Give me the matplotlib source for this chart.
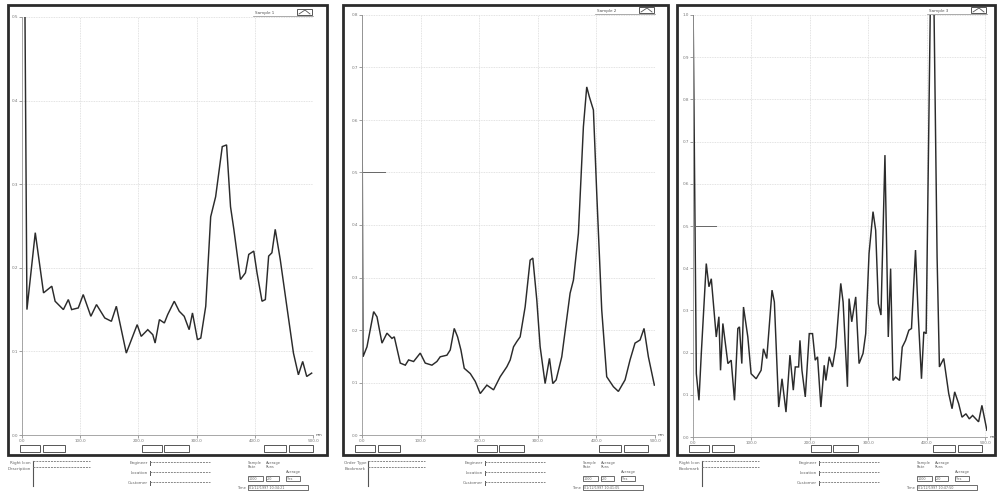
import numpy as np
import matplotlib
matplotlib.use("Agg")
import matplotlib.pyplot as plt
from matplotlib.patches import Rectangle

#-------------------
# Spectra (x in nm, y in absorbance units)

wl_1 = [4, 8.5, 22.8, 37.0, 51.2, 56.9, 71.1, 79.6, 85.3, 96.7, 105.2, 118.3, 128.0, 142.2,
        153.6, 162.1, 179.2, 197.9, 204.8, 216.1, 224.7, 228.7, 236.1, 244.6, 250.3, 261.6,
        270.2, 278.7, 287.2, 292.9, 301.5, 307.2, 315.7, 324.2, 332.7, 344.1, 351.5, 358.3,
        364.0, 375.4, 383.9, 389.6, 398.2, 403.8, 412.4, 418.1, 423.8, 429.4, 435.1, 443.7,
        455.0, 466.4, 474.9, 482.3, 489.2, 497.7]
abs_1 = [0.62, 0.150, 0.242, 0.170, 0.178, 0.160, 0.150, 0.162, 0.150, 0.152, 0.168, 0.142,
         0.156, 0.140, 0.136, 0.154, 0.098, 0.132, 0.118, 0.126, 0.120, 0.110, 0.138, 0.134,
         0.144, 0.160, 0.148, 0.142, 0.126, 0.146, 0.114, 0.116, 0.154, 0.261, 0.285, 0.345,
         0.347, 0.273, 0.246, 0.186, 0.194, 0.216, 0.220, 0.194, 0.160, 0.162, 0.214, 0.218,
         0.246, 0.210, 0.154, 0.098, 0.072, 0.088, 0.070, 0.074]

wl_2 = [-1, 1.7, 8.5, 19.9, 25.6, 34.1, 42.6, 51.1, 55.1, 65.3, 73.9, 79.5, 88.1, 99.4, 107.9,
        119.3, 127.8, 133.5, 144.9, 150.6, 157.4, 163.1, 168.8, 174.5, 184.8, 193.3, 201.8,
        213.1, 224.5, 235.8, 247.2, 252.9, 258.6, 264.2, 269.9, 278.4, 286.9, 291.5, 298.3,
        304.0, 312.5, 319.9, 325.6, 331.3, 340.9, 355.1, 360.8, 369.3, 377.8, 383.5, 388.0,
        394.9, 400.6, 409.1, 417.6, 429.0, 437.5, 448.9, 457.4, 465.9, 474.5, 481.3, 488.7,
        498.9]
abs_2 = [0.95, 0.149, 0.168, 0.235, 0.225, 0.175, 0.194, 0.184, 0.187, 0.137, 0.133, 0.143,
         0.140, 0.156, 0.137, 0.133, 0.140, 0.149, 0.152, 0.162, 0.203, 0.187, 0.162, 0.127,
         0.117, 0.102, 0.079, 0.095, 0.086, 0.111, 0.130, 0.143, 0.168, 0.178, 0.187, 0.244,
         0.333, 0.337, 0.257, 0.168, 0.098, 0.146, 0.098, 0.105, 0.149, 0.270, 0.295, 0.384,
         0.587, 0.663, 0.644, 0.619, 0.460, 0.238, 0.111, 0.092, 0.083, 0.105, 0.143, 0.175,
         0.181, 0.203, 0.149, 0.095]

wl_3 = [-1, 5.7, 10.2, 14.2, 22.7, 27.3, 31.3, 39.8, 44.3, 47.1, 51.1, 59.7, 65.3, 71.0, 76.7,
        79.5, 83.5, 86.4, 93.8, 99.4, 108.0, 116.5, 120.5, 126.2, 135.2, 139.2, 146.6, 152.3,
        159.1, 165.9, 171.6, 175.0, 180.7, 183.0, 186.4, 192.1, 198.9, 204.5, 209.1, 213.1,
        218.8, 224.5, 227.3, 233.0, 238.6, 244.3, 252.8, 256.8, 264.2, 267.0, 271.6, 278.4,
        284.1, 290.9, 295.5, 301.2, 308.0, 312.5, 317.1, 321.6, 328.4, 334.1, 338.1, 342.1,
        346.6, 353.4, 358.0, 363.7, 369.3, 373.8, 380.7, 385.2, 390.9, 394.9, 398.9, 406.3,
        412.0, 417.6, 421.6, 429.0, 437.5, 443.2, 447.7, 454.5, 460.2, 467.0, 472.7, 478.4,
        488.6, 494.3, 502.8]
abs_3 = [1.2, 0.150, 0.087, 0.198, 0.411, 0.356, 0.375, 0.237, 0.285, 0.158, 0.269, 0.174,
         0.182, 0.087, 0.257, 0.261, 0.174, 0.308, 0.237, 0.150, 0.138, 0.158, 0.209, 0.186,
         0.348, 0.320, 0.071, 0.138, 0.059, 0.194, 0.111, 0.166, 0.166, 0.229, 0.158, 0.095,
         0.245, 0.245, 0.182, 0.190, 0.071, 0.170, 0.134, 0.190, 0.166, 0.213, 0.364, 0.320,
         0.119, 0.328, 0.273, 0.332, 0.174, 0.198, 0.245, 0.435, 0.534, 0.490, 0.316, 0.289,
         0.668, 0.237, 0.399, 0.134, 0.142, 0.134, 0.213, 0.229, 0.253, 0.257, 0.443, 0.292,
         0.138, 0.249, 0.245, 1.05, 1.05, 0.427, 0.166, 0.186, 0.103, 0.067, 0.107, 0.079,
         0.047, 0.055, 0.043, 0.051, 0.036, 0.075, 0.016]

y_max = [0.5, 0.8, 1.0]
y_step = [0.1, 0.1, 0.1]
x_ticks = [0, 100, 200, 300, 400, 500]
x_tick_labels = ["0.0", "100.0", "200.0", "300.0", "400.0", "500.0"]
sample_names = ["Sample 1", "Sample 2", "Sample 3"]
form_left = [["Right Icon", "Description"], ["Order Type", "Bookmark"], ["Right Icon", "Bookmark"]]
form_mid = ["Engineer", "Location", "Customer"]
run_times = ["01/12/1997 10:34:21", "01/12/1997 10:41:05", "01/12/1997 10:47:50"]

#-------------------

W, H = 997, 498
INK = "#2b2b2b"
GRID = "#d9d9d9"

# pixel boxes: frame (x0, x1, y0, y1) and plot area (x0, x1, y0, y1)
frames = [(8, 327, 5, 455), (343, 668, 5, 455), (677, 995, 5, 455)]
plots = [(22, 313, 17, 435), (362, 655, 15, 435), (693, 987, 15, 437)]


def fx(x):
    return x / W


def fy(y):
    return 1 - y / H


def drawPanel(fig, deco, k, wl, ab):
    fx0, fx1, fy0, fy1 = frames[k]
    px0, px1, py0, py1 = plots[k]

    # outer frame
    deco.add_patch(Rectangle((fx0, fy0), fx1 - fx0, fy1 - fy0, fill=False, lw=2.0, ec=INK))

    ax = fig.add_axes([fx(px0), fy(py1), fx(px1) - fx(px0), fy(py0) - fy(py1)])
    ax.plot(wl, ab, color=INK, lw=1.05, solid_joinstyle="miter", clip_on=True)
    ax.set_xlim(0, 500 if k < 2 else 503)
    ax.set_ylim(0, y_max[k])
    yt = np.round(np.arange(0, y_max[k] + 1e-9, y_step[k]), 2)
    ax.set_yticks(yt)
    ax.set_yticklabels(["%.1f" % v for v in yt])
    ax.set_xticks(x_ticks)
    ax.set_xticklabels(x_tick_labels)
    ax.tick_params(labelsize=3, colors="#777777", length=2, width=0.5, pad=1)
    ax.grid(True, color=GRID, lw=0.6, ls=(0, (1, 1)))
    for s in ["top", "right"]:
        ax.spines[s].set_visible(False)
    ax.spines["left"].set_color("#999999")
    ax.spines["bottom"].set_color("#999999")
    ax.spines["left"].set_linewidth(0.6)
    ax.spines["bottom"].set_linewidth(0.6)
    ax.patch.set_alpha(0)
    if k > 0:
        # short marker line at the 0.5 level
        ax.plot([2, 40], [0.5, 0.5], color="#666666", lw=0.7)
    ax.text(1.01, 0.0, "nm", transform=ax.transAxes, fontsize=3, color="#555555", va="center")

    # legend box top right
    deco.text(px1 - 58, py0 - 4, sample_names[k], fontsize=3, color="#555555", va="center")
    deco.add_patch(Rectangle((px1 - 16, py0 - 8), 15, 6, fill=False, lw=0.7, ec="#555555"))
    deco.plot([px1 - 14, px1 - 8, px1 - 3], [py0 - 3, py0 - 7, py0 - 3], color="#555555", lw=0.6)
    deco.plot([px1 - 60, px1], [py0 - 1, py0 - 1], color="#888888", lw=0.5)

    # button row under the plot
    for bx, bw in [(0, 20), (23, 22), (122, 20), (144, 25), (244, 22), (269, 24)]:
        deco.add_patch(Rectangle((fx0 + 12 + bx, 445), bw, 7, fill=False, lw=0.7, ec="#555555"))

    # form fields under the frame
    l0 = fx0
    deco.text(l0 + 23, 463, form_left[k][0], fontsize=3, color="#666666", ha="right", va="center")
    deco.text(l0 + 23, 469, form_left[k][1], fontsize=3, color="#666666", ha="right", va="center")
    deco.plot([l0 + 25, l0 + 25], [461, 486], color="#555555", lw=0.8)
    deco.plot([l0 + 25, l0 + 82], [461, 461], color="#888888", lw=0.7, ls=(0, (2, 1)))
    deco.plot([l0 + 25, l0 + 82], [467, 467], color="#888888", lw=0.7, ls=(0, (2, 1)))
    for i, lab in enumerate(form_mid):
        yy = 462 + 10 * i
        deco.text(l0 + 140, yy + 1, lab, fontsize=3, color="#666666", ha="right", va="center")
        deco.plot([l0 + 142, l0 + 142], [yy - 1, yy + 3], color="#555555", lw=0.7)
        deco.plot([l0 + 142, l0 + 202], [yy, yy], color="#888888", lw=0.7, ls=(0, (2, 1)))
    deco.text(l0 + 240, 465, "Sample\nRate", fontsize=2.6, color="#666666", va="center", linespacing=1.0)
    deco.text(l0 + 258, 465, "Average\nRuns", fontsize=2.6, color="#666666", va="center", linespacing=1.0)
    deco.text(l0 + 278, 472, "Average", fontsize=2.6, color="#666666", va="center")
    for bx, bw, val in [(240, 15, "1000"), (258, 13, "2.0"), (278, 14, "Yes")]:
        deco.add_patch(Rectangle((l0 + bx, 476), bw, 5, fill=False, lw=0.6, ec="#555555"))
        deco.text(l0 + bx + 1, 478.5, val, fontsize=2.4, color="#666666", va="center")
    deco.text(l0 + 238, 488, "Time", fontsize=2.6, color="#666666", ha="right", va="center")
    deco.add_patch(Rectangle((l0 + 240, 485), 60, 5, fill=False, lw=0.6, ec="#555555"))
    deco.text(l0 + 241, 487.5, run_times[k], fontsize=2.4, color="#666666", va="center")

    return ax

#-------------------

fig = plt.figure(figsize=(W / 100, H / 100), dpi=100)
fig.patch.set_facecolor("white")

deco = fig.add_axes([0, 0, 1, 1])
deco.set_xlim(0, W)
deco.set_ylim(H, 0)
deco.axis("off")

series = [(wl_1, abs_1), (wl_2, abs_2), (wl_3, abs_3)]
for k, (wl, ab) in enumerate(series):
    drawPanel(fig, deco, k, wl, ab)

fig.savefig("out.png", dpi=100)
